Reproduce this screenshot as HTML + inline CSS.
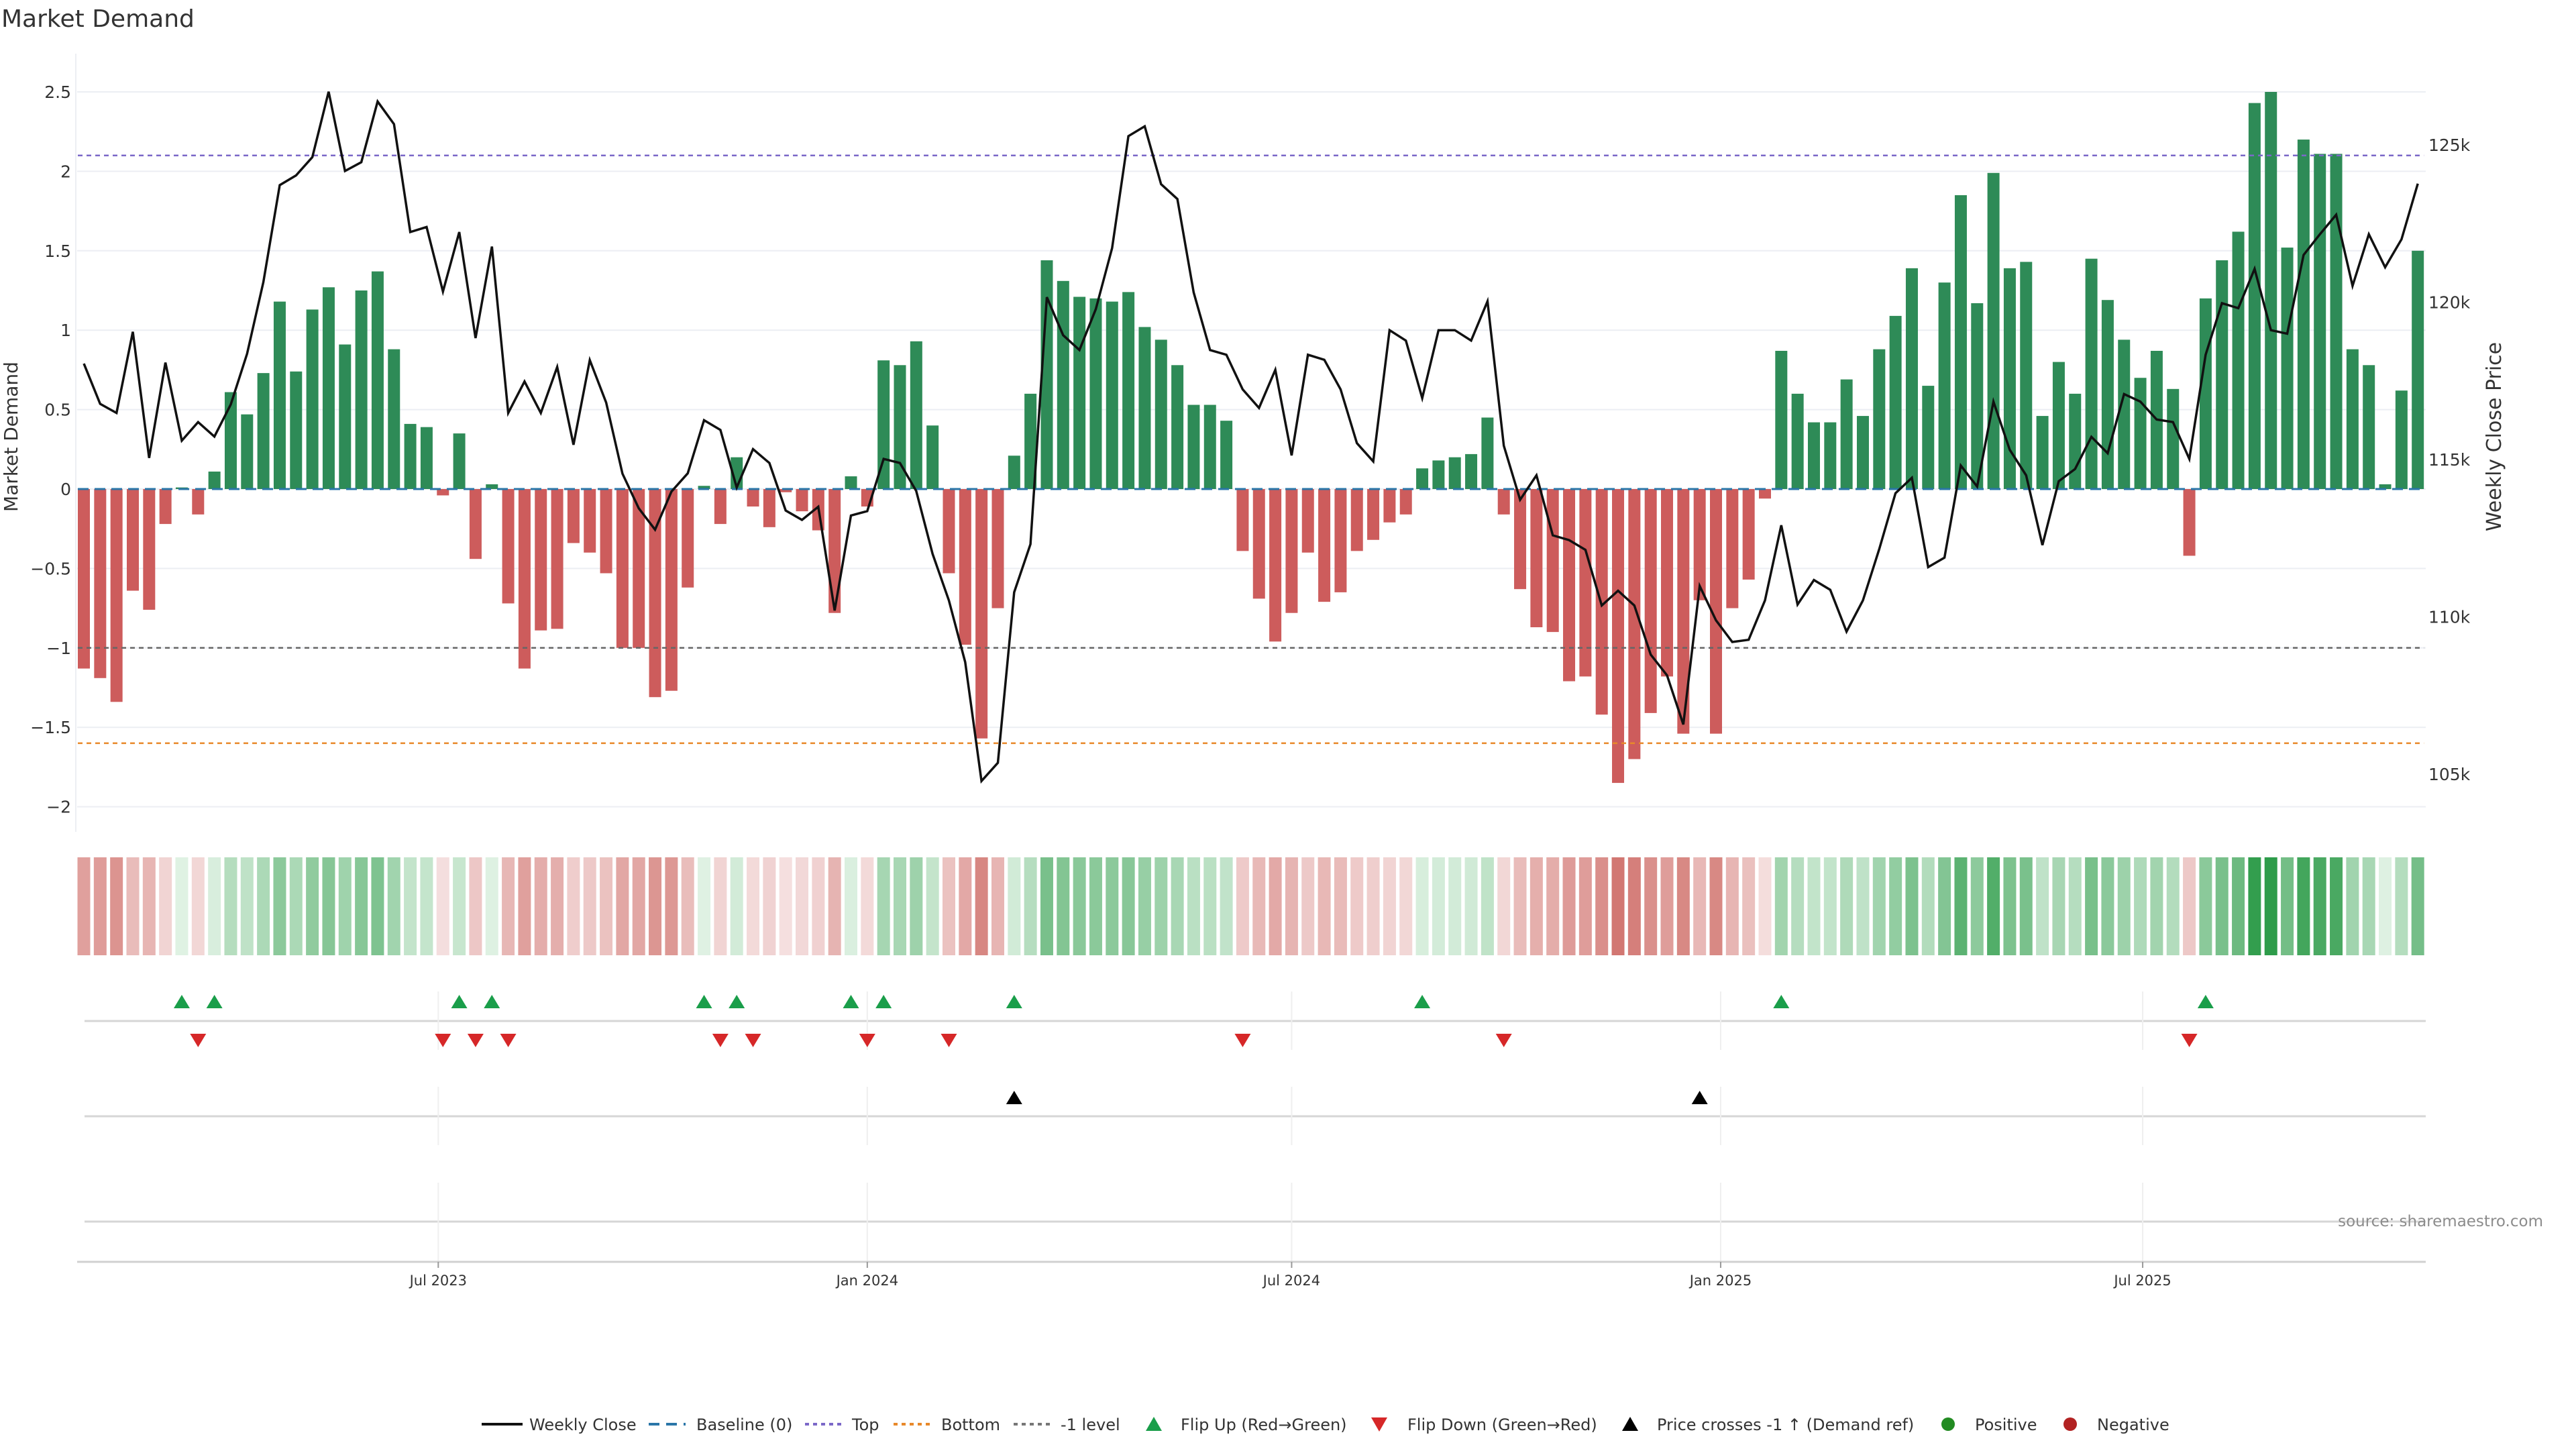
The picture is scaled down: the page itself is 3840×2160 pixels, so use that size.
<!DOCTYPE html>
<html><head><meta charset="utf-8"><title>Market Demand</title>
<style>
html,body{margin:0;padding:0;background:#fff;}
svg{display:block;font-family:"DejaVu Sans","Liberation Sans",sans-serif;}
</style></head>
<body>
<svg id="chart" width="3840" height="2160" viewBox="0 0 3840 2160" xmlns="http://www.w3.org/2000/svg">
<text x="2" y="40" font-size="36" fill="#333">Market Demand</text>
<g id="grid"></g>
<g id="bars"></g>
<g id="lines"></g>
<g id="price"></g>
<g id="strip"></g>
<g id="events"></g>
<g id="axes"></g>
<text transform="translate(26,651) rotate(-90)" text-anchor="middle" font-size="28" fill="#333">Market Demand</text>
<text transform="translate(3728,651) rotate(-90)" text-anchor="middle" font-size="30" fill="#333">Weekly Close Price</text>
<text x="3791" y="1828" text-anchor="end" font-size="23" fill="#8c8c8c">source: sharemaestro.com</text>
<g id="legend" font-size="24" fill="#333">
  <g><line x1="718" y1="2123" x2="779" y2="2123" stroke="#111" stroke-width="4"/><text x="789" y="2132">Weekly Close</text></g>
  <g><line x1="967" y1="2123" x2="1022" y2="2123" stroke="#2a76a8" stroke-width="4" stroke-dasharray="16,10"/><text x="1038" y="2132">Baseline (0)</text></g>
  <g><line x1="1200" y1="2123" x2="1254" y2="2123" stroke="#7b68c8" stroke-width="4" stroke-dasharray="6,6"/><text x="1270" y="2132">Top</text></g>
  <g><line x1="1332" y1="2123" x2="1387" y2="2123" stroke="#e8892a" stroke-width="4" stroke-dasharray="6,6"/><text x="1403" y="2132">Bottom</text></g>
  <g><line x1="1511" y1="2123" x2="1566" y2="2123" stroke="#777" stroke-width="4" stroke-dasharray="6,6"/><text x="1581" y="2132">-1 level</text></g>
  <g><polygon points="1708,2133 1732,2133 1720,2112" fill="#1a9e4a"/><text x="1760" y="2132">Flip Up (Red→Green)</text></g>
  <g><polygon points="2044,2113 2068,2113 2056,2134" fill="#d62728"/><text x="2098" y="2132">Flip Down (Green→Red)</text></g>
  <g><polygon points="2418,2133 2442,2133 2430,2112" fill="#000"/><text x="2470" y="2132">Price crosses -1 ↑ (Demand ref)</text></g>
  <g><circle cx="2904" cy="2123" r="10" fill="#228b22"/><text x="2944" y="2132">Positive</text></g>
  <g><circle cx="3086" cy="2123" r="10" fill="#b22222"/><text x="3126" y="2132">Negative</text></g>
</g>
</svg>
<script>
const demand = [-1.13,-1.19,-1.34,-0.64,-0.76,-0.22,0.01,-0.16,0.11,0.61,
0.47,0.73,1.18,0.74,1.13,1.27,0.91,1.25,1.37,0.88,
0.41,0.39,-0.04,0.35,-0.44,0.03,-0.72,-1.13,-0.89,-0.88,
-0.34,-0.40,-0.53,-1.0,-1.0,-1.31,-1.27,-0.62,0.02,-0.22,
0.20,-0.11,-0.24,-0.02,-0.14,-0.26,-0.78,0.08,-0.11,0.81,
0.78,0.93,0.40,-0.53,-0.98,-1.57,-0.75,0.21,0.60,1.44,
1.31,1.21,1.20,1.18,1.24,1.02,0.94,0.78,0.53,0.53,
0.43,-0.39,-0.69,-0.96,-0.78,-0.40,-0.71,-0.65,-0.39,-0.32,
-0.21,-0.16,0.13,0.18,0.20,0.22,0.45,-0.16,-0.63,-0.87,
-0.90,-1.21,-1.18,-1.42,-1.85,-1.70,-1.41,-1.18,-1.54,-0.70,
-1.54,-0.75,-0.57,-0.06,0.87,0.60,0.42,0.42,0.69,0.46,
0.88,1.09,1.39,0.65,1.30,1.85,1.17,1.99,1.39,1.43,
0.46,0.80,0.60,1.45,1.19,0.94,0.70,0.87,0.63,-0.42,
1.20,1.44,1.62,2.43,2.50,1.52,2.20,2.11,2.11,0.88,
0.78,0.03,0.62,1.50];
const priceK = [118.05,116.77,116.48,119.06,115.05,118.08,115.6,116.19,115.73,116.75,
118.36,120.64,123.72,124.03,124.61,126.69,124.17,124.45,126.38,125.66,
122.23,122.39,120.34,122.23,118.86,121.77,116.48,117.48,116.48,117.94,
115.47,118.16,116.81,114.55,113.45,112.77,113.98,114.56,116.25,115.94,
114.11,115.33,114.89,113.38,113.08,113.5,110.2,113.22,113.36,115.02,
114.89,114.0,112.0,110.52,108.56,104.78,105.36,110.78,112.31,120.16,
118.95,118.48,119.78,121.72,125.28,125.59,123.75,123.28,120.31,118.48,
118.33,117.23,116.64,117.85,115.13,118.33,118.17,117.23,115.52,114.94,
119.11,118.78,116.95,119.11,119.11,118.78,120.03,115.44,113.72,114.5,
112.59,112.44,112.13,110.36,110.83,110.36,108.8,108.14,106.58,110.98,
109.89,109.2,109.27,110.52,112.91,110.39,111.17,110.86,109.53,110.52,
112.15,113.93,114.42,111.58,111.88,114.81,114.14,116.84,115.31,114.5,
112.28,114.31,114.7,115.72,115.2,117.08,116.84,116.27,116.19,115.02,
118.33,119.97,119.81,121.06,119.11,119.0,121.5,122.16,122.78,120.52,
122.16,121.11,122.0,123.77];
const leftTicks = [2.5,2,1.5,1,0.5,0,-0.5,-1,-1.5,-2];
const leftTickLabels = ["2.5","2","1.5","1","0.5","0","−0.5","−1","−1.5","−2"];
const rightTicks = [125,120,115,110,105];
const rightTickLabels = ["125k","120k","115k","110k","105k"];
const dateTicks = ["2023-07-01","2024-01-01","2024-07-01","2025-01-01","2025-07-01"];
const dateTickLabels = ["Jul 2023","Jan 2024","Jul 2024","Jan 2025","Jul 2025"];
const levels = [2.1, -1.6, -1];
const startDate = "2023-01-30";

const NS = "http://www.w3.org/2000/svg";
function mk(tag, attrs, parent){const e=document.createElementNS(NS,tag);for(const k in attrs)e.setAttribute(k,attrs[k]);parent.appendChild(e);return e;}
const PITCH = 24.33, X0 = 125;
const t0 = Date.parse(startDate+"T00:00:00Z");
function xIdx(i){return X0 + i*PITCH;}
function xDate(s){return X0 + (Date.parse(s+"T00:00:00Z")-t0)/86400000/7*PITCH;}
function yV(v){return 729 - v*236.8;}
function yP(p){return 216 + (125-p)*46.9;}
function vToP(v){return 125 - (yV(v)-216)/46.9;}
const XL = 115, XR = 3616;

const grid = document.getElementById('grid');
leftTicks.forEach((v,k)=>{
  const l = mk('line',{x1:XL,x2:XR,y1:yV(v),y2:yV(v),stroke:'#eceef3','stroke-width':2},grid);
  
  
});
const axes = document.getElementById('axes');
const spine = mk('line',{x1:113,x2:113,y1:80,y2:1240,stroke:'#eceef3','stroke-width':2},axes);


leftTicks.forEach((v,k)=>{
  const t = mk('text',{x:106,y:yV(v)+9,'text-anchor':'end','font-size':25,fill:'#333'},axes);
  t.textContent = leftTickLabels[k];
  
  
});
rightTicks.forEach((p,k)=>{
  const t = mk('text',{x:3620,y:yP(p)+9,'font-size':25,fill:'#333'},axes);
  t.textContent = rightTickLabels[k];
  
  
});

// bars
const bars = document.getElementById('bars');
demand.forEach((v,i)=>{
  const y1=yV(Math.max(v,0)), y2=yV(Math.min(v,0));
  const r = mk('rect',{x:xIdx(i)-9,y:y1,width:18,height:Math.max(y2-y1,0.5),fill:v>=0?'#2e8b57':'#cd5c5c'},bars);
  
  
});
// reference lines
const lines = document.getElementById('lines');
const base = mk('line',{x1:X0-9,x2:xIdx(demand.length-1)+9,y1:yV(0),y2:yV(0),stroke:'#2a76a8','stroke-width':3,'stroke-dasharray':'16,9'},lines);


const lvlColors=['#7b68c8','#e8892a','#666'];
const lvlNames=['top-line','bottom-line','minus1-level-line'];
levels.forEach((v,k)=>{
  const l = mk('line',{x1:X0-9,x2:xIdx(demand.length-1)+9,y1:yV(v),y2:yV(v),stroke:lvlColors[k],'stroke-width':2.5,'stroke-dasharray':'7,6'},lines);
  
  
});
// price line
const pg = document.getElementById('price');
const pl = mk('polyline',{points:priceK.map((p,i)=>xIdx(i).toFixed(1)+','+yP(p).toFixed(1)).join(' '),fill:'none',stroke:'#111','stroke-width':3.5,'stroke-linejoin':'miter'},pg);



// heat strip
function lerp(a,b,t){return Math.round(a+(b-a)*t);}
function col(v){
  const t=Math.min(Math.abs(v)/2.5,1);
  if(v>=0) return `rgb(${lerp(224,46,t)},${lerp(242,156,t)},${lerp(228,74,t)})`;
  return `rgb(${lerp(245,198,t)},${lerp(224,82,t)},${lerp(224,75,t)})`;
}
const strip = document.getElementById('strip');
demand.forEach((v,i)=>{
  const r = mk('rect',{x:xIdx(i)-9.5,y:1278,width:19,height:146,fill:col(v)},strip);
  
  
});

// event panels
const ev = document.getElementById('events');
[[1522],[1664],[1821]].forEach(([y],k)=>{
  const l = mk('line',{x1:126,x2:3616,y1:y,y2:y,stroke:'#d6d6d6','stroke-width':3},ev);
  
  
});
dateTicks.forEach(d=>{
  const x=xDate(d);
  [[1478,1565],[1620,1707],[1763,1880]].forEach(([a,b])=>{
    const l = mk('line',{x1:x,x2:x,y1:a,y2:b,stroke:'#efefef','stroke-width':2},ev);
    
    
  });
});
function tri(x,y,up,fill,name){
  const pts = up ? `${x-12},${y+10} ${x+12},${y+10} ${x},${y-10}` : `${x-12},${y-10} ${x+12},${y-10} ${x},${y+10}`;
  const p = mk('polygon',{points:pts,fill:fill},ev);
  
  
}
const priceLevel = vToP(-1);
for(let i=1;i<demand.length;i++){
  if(demand[i]>0 && demand[i-1]<=0) tri(xIdx(i),1493,true,'#1a9e4a','flip-up-marker');
  if(demand[i]<0 && demand[i-1]>=0) tri(xIdx(i),1551,false,'#d62728','flip-down-marker');
  if(priceK[i]>priceLevel && priceK[i-1]<=priceLevel) tri(xIdx(i),1636,true,'#000','price-cross-marker');
}

// x axis
const xa = mk('line',{x1:115,x2:3616,y1:1881,y2:1881,stroke:'#d0d0d0','stroke-width':3},axes);


dateTicks.forEach((d,k)=>{
  const x=xDate(d);
  const tk = mk('line',{x1:x,x2:x,y1:1881,y2:1890,stroke:'#999','stroke-width':2},axes);
  
  
  const t = mk('text',{x:x,y:1916,'text-anchor':'middle','font-size':21,fill:'#333'},axes);
  t.textContent = dateTickLabels[k];
  
  
});
</script>
</body></html>
